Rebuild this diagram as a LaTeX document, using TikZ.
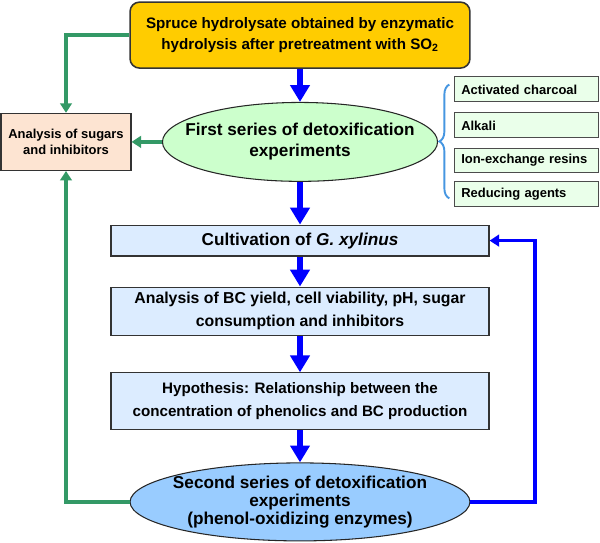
\documentclass[tikz,border=0pt]{standalone}
\usepackage{fontspec}
\setmainfont{Liberation Sans}
\usetikzlibrary{arrows.meta,positioning,shapes.geometric,decorations.pathreplacing}
\definecolor{topfill}{RGB}{255,204,0}
\definecolor{sugarfill}{RGB}{253,228,210}
\definecolor{firstfill}{RGB}{204,255,204}
\definecolor{sidefill}{RGB}{234,255,234}
\definecolor{stepfill}{RGB}{220,236,255}
\definecolor{secondfill}{RGB}{153,204,255}
\definecolor{flowblue}{RGB}{0,0,255}
\definecolor{backgreen}{RGB}{51,153,102}
\definecolor{bracecol}{RGB}{70,150,225}

\begin{document}
\begin{tikzpicture}[semithick,
stepbox/.style ={draw=black!80, line width=1.1pt, align=center, fill=stepfill, minimum width=12.6cm},
oval/.style ={ellipse, draw=black!85, line width=1pt, inner sep=0pt},
ovaltext/.style ={align=center, inner sep=0pt},
sidebox/.style ={draw=black!70, line width=1pt, fill=sidefill, minimum width=4.77cm, minimum height=0.83cm,
  text width=4.35cm, inner xsep=0.21cm, align=left, font=\fontsize{12.3}{14}\selectfont\bfseries},
flow/.style = {-{Triangle[width=18pt,length=16pt]}, line width=6.5pt, flowblue},
back/.style = {-{Triangle[width=11pt,length=9pt]}, line width=3.5pt}]

\useasboundingbox (0,0) rectangle (20,-18.1);

\node[stepbox, rounded corners=9pt, fill=topfill, line width=1.5pt, minimum width=11.33cm,
  minimum height=2.2cm, font=\fontsize{14.4}{20}\selectfont\bfseries] (spruce) at (10,-1.17)
  {Spruce hydrolysate obtained by enzymatic\\hydrolysis after pretreatment with SO\textsubscript{2}};

\node[stepbox, fill=sugarfill, minimum width=4.33cm, minimum height=1.9cm,
  font=\fontsize{12.3}{15.2}\selectfont\bfseries] (sugars) at (2.2,-4.73)
  {Analysis of sugars\\and inhibitors};

\node[oval, fill=firstfill, minimum width=9.17cm, minimum height=2.63cm,
  label={[ovaltext, font=\fontsize{16.3}{20}\selectfont\bfseries]center:{First series of detoxification\\experiments}}]
  (first) at (10,-4.73) {};

\node[sidebox] (charcoal) at (17.55,-2.98) {Activated charcoal};
\node[sidebox] (alkali) at (17.55,-4.18) {Alkali};
\node[sidebox] (resins) at (17.55,-5.35) {Ion-exchange resins};
\node[sidebox] (reducing) at (17.55,-6.48) {Reducing agents};

\node[stepbox, minimum height=1.03cm, font=\fontsize{16.3}{20}\selectfont\bfseries] (cult) at (10,-8.02)
  {Cultivation of \textit{G. xylinus}};
\node[stepbox, minimum height=1.6cm, font=\fontsize{15}{22}\selectfont\bfseries] (bcyield) at (10,-10.37)
  {Analysis of BC yield, cell viability, pH, sugar\\consumption and inhibitors};
\node[stepbox, minimum height=1.9cm, font=\fontsize{14.4}{22}\selectfont\bfseries] (hypo) at (10,-13.38)
  {Hypothesis: Relationship between the\\concentration of phenolics and BC production};

\node[oval, fill=secondfill, minimum width=11.33cm, minimum height=2.6cm,
  label={[ovaltext, font=\fontsize{16.3}{17}\selectfont\bfseries]center:{Second series of detoxification\\experiments\\(phenol-oxidizing enzymes)}}]
  (second) at (10,-16.73) {};

\coordinate (loop) at (17.83,-8.02);

\draw[flow] (spruce) -- (first);
\draw[flow] (first) -- (cult);
\draw[flow] (cult) -- (bcyield);
\draw[flow] (bcyield) -- (hypo);
\draw[flow] (hypo) -- (second);

\draw[back, backgreen] (spruce.west) -| (sugars.north);
\draw[back, backgreen] (first.west) -- (sugars.east);
\draw[back, backgreen] (second.west) -| (sugars.south);
\draw[back, flowblue] (second.east) -| (loop) -- (cult.east);

\draw[bracecol, line width=1.8pt, decorate, decoration={brace, amplitude=0.33cm}]
  ([xshift=-0.17cm,yshift=0.3cm]reducing.south west) -- ([xshift=-0.17cm,yshift=-0.27cm]charcoal.north west);

\end{tikzpicture}
\end{document}
